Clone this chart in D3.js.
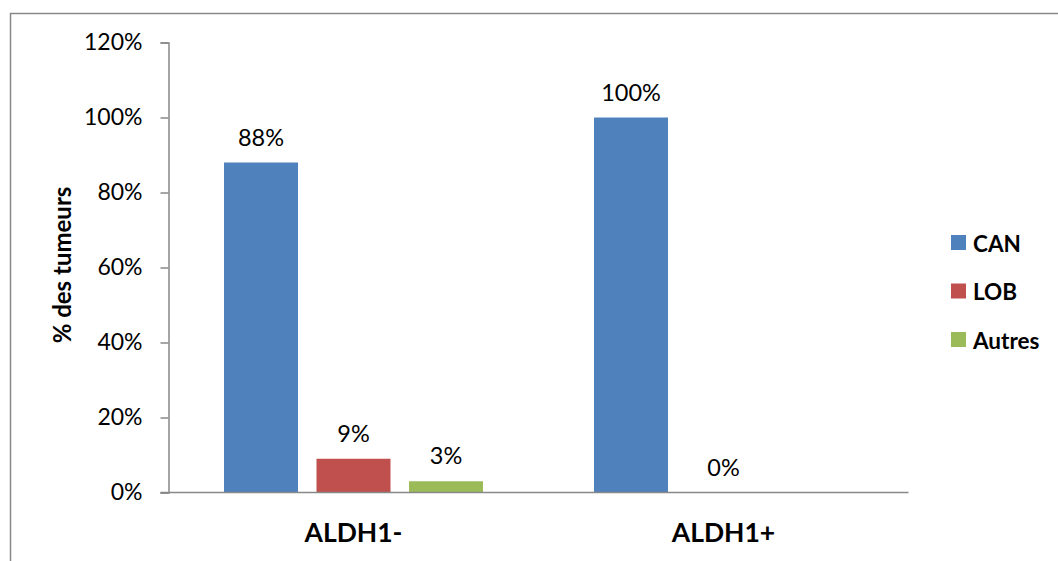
<!DOCTYPE html>
<html>
<head>
<meta charset="utf-8">
<script src="https://cdn.jsdelivr.net/npm/d3@7"></script>
<style>
  html, body { margin: 0; padding: 0; background: #fff; }
  svg { display: block; }
  text { font-family: Lato, "Open Sans", sans-serif; fill: #000; }
</style>
</head>
<body>
<svg id="chart" width="1058" height="561"></svg>
<script>
// Tumour distribution by ALDH1 status
const categories = ["ALDH1-", "ALDH1+"];
const seriesNames = ["CAN", "LOB", "Autres"];
const canValues = [88, 100];
const lobValues = [9, 0];
const autresValues = [3, null];
const yTicks = [0, 20, 40, 60, 80, 100, 120];
const colors = ["#4F81BD", "#C0504D", "#9BBB59"];

const seriesValues = [canValues, lobValues, autresValues];

const svg = d3.select("#chart");
const W = 1058, H = 561;

// outer chart frame
svg.append("rect")
  .attr("x", 10.5).attr("y", 13.5)
  .attr("width", W + 20).attr("height", H + 20)
  .attr("fill", "none").attr("stroke", "#888").attr("stroke-width", 1.5);

const plot = { left: 168.5, right: 908.5, top: 42.5, bottom: 492.5 };

const x = d3.scaleBand().domain(categories)
  .range([plot.left, plot.right]).paddingInner(0.3).paddingOuter(0.15);
const xs = d3.scaleBand().domain(seriesNames)
  .range([0, x.bandwidth()]).paddingInner(0.2).paddingOuter(0);
const y = d3.scaleLinear().domain([0, 120]).range([plot.bottom, plot.top]);

// y axis
const yAxis = svg.append("g")
  .attr("transform", `translate(${plot.left},0)`)
  .call(d3.axisLeft(y).tickValues(yTicks).tickSize(8).tickPadding(18)
    .tickFormat(d => d + "%"));
yAxis.select(".domain").attr("stroke", "#888").attr("stroke-width", 1.5);
yAxis.selectAll(".tick line").attr("stroke", "#888").attr("stroke-width", 1.5);
yAxis.selectAll(".tick text")
  .attr("font-size", 23).attr("font-family", "Lato, 'Open Sans', sans-serif")
  .attr("fill", "#000");

// bars
const barData = [];
categories.forEach((c, ci) => {
  seriesNames.forEach((s, si) => {
    const v = seriesValues[si][ci];
    if (v !== null) barData.push({ cat: c, series: s, si, value: v });
  });
});

svg.append("g").selectAll("rect")
  .data(barData)
  .join("rect")
  .attr("x", d => x(d.cat) + xs(d.series))
  .attr("y", d => y(d.value))
  .attr("width", xs.bandwidth())
  .attr("height", d => y(0) - y(d.value))
  .attr("fill", d => colors[d.si]);

// value labels
svg.append("g").selectAll("text")
  .data(barData)
  .join("text")
  .attr("x", d => x(d.cat) + xs(d.series) + xs.bandwidth() / 2)
  .attr("y", d => y(d.value) - 17)
  .attr("text-anchor", "middle")
  .attr("font-size", 23.5)
  .text(d => d.value + "%");

// x axis line
svg.append("line")
  .attr("x1", plot.left - 8).attr("x2", plot.right)
  .attr("y1", plot.bottom).attr("y2", plot.bottom)
  .attr("stroke", "#888").attr("stroke-width", 1.5);

// category labels
svg.append("g").selectAll("text")
  .data(categories)
  .join("text")
  .attr("x", d => x(d) + x.bandwidth() / 2)
  .attr("y", 542)
  .attr("text-anchor", "middle")
  .attr("font-size", 26.5)
  .attr("font-weight", "bold")
  .text(d => d);

// y axis title
svg.append("text")
  .attr("transform", "translate(71,265) rotate(-90)")
  .attr("text-anchor", "middle")
  .attr("font-size", 24)
  .attr("font-weight", "bold")
  .text("% des tumeurs");

// legend
const legend = svg.append("g").selectAll("g")
  .data(seriesNames)
  .join("g")
  .attr("transform", (d, i) => `translate(951,${235 + i * 48.5})`);
legend.append("rect")
  .attr("width", 15).attr("height", 15)
  .attr("fill", (d, i) => colors[i]);
legend.append("text")
  .attr("x", 22).attr("y", 16.5)
  .attr("font-size", 22.5)
  .attr("font-weight", "bold")
  .text(d => d);
</script>
</body>
</html>
